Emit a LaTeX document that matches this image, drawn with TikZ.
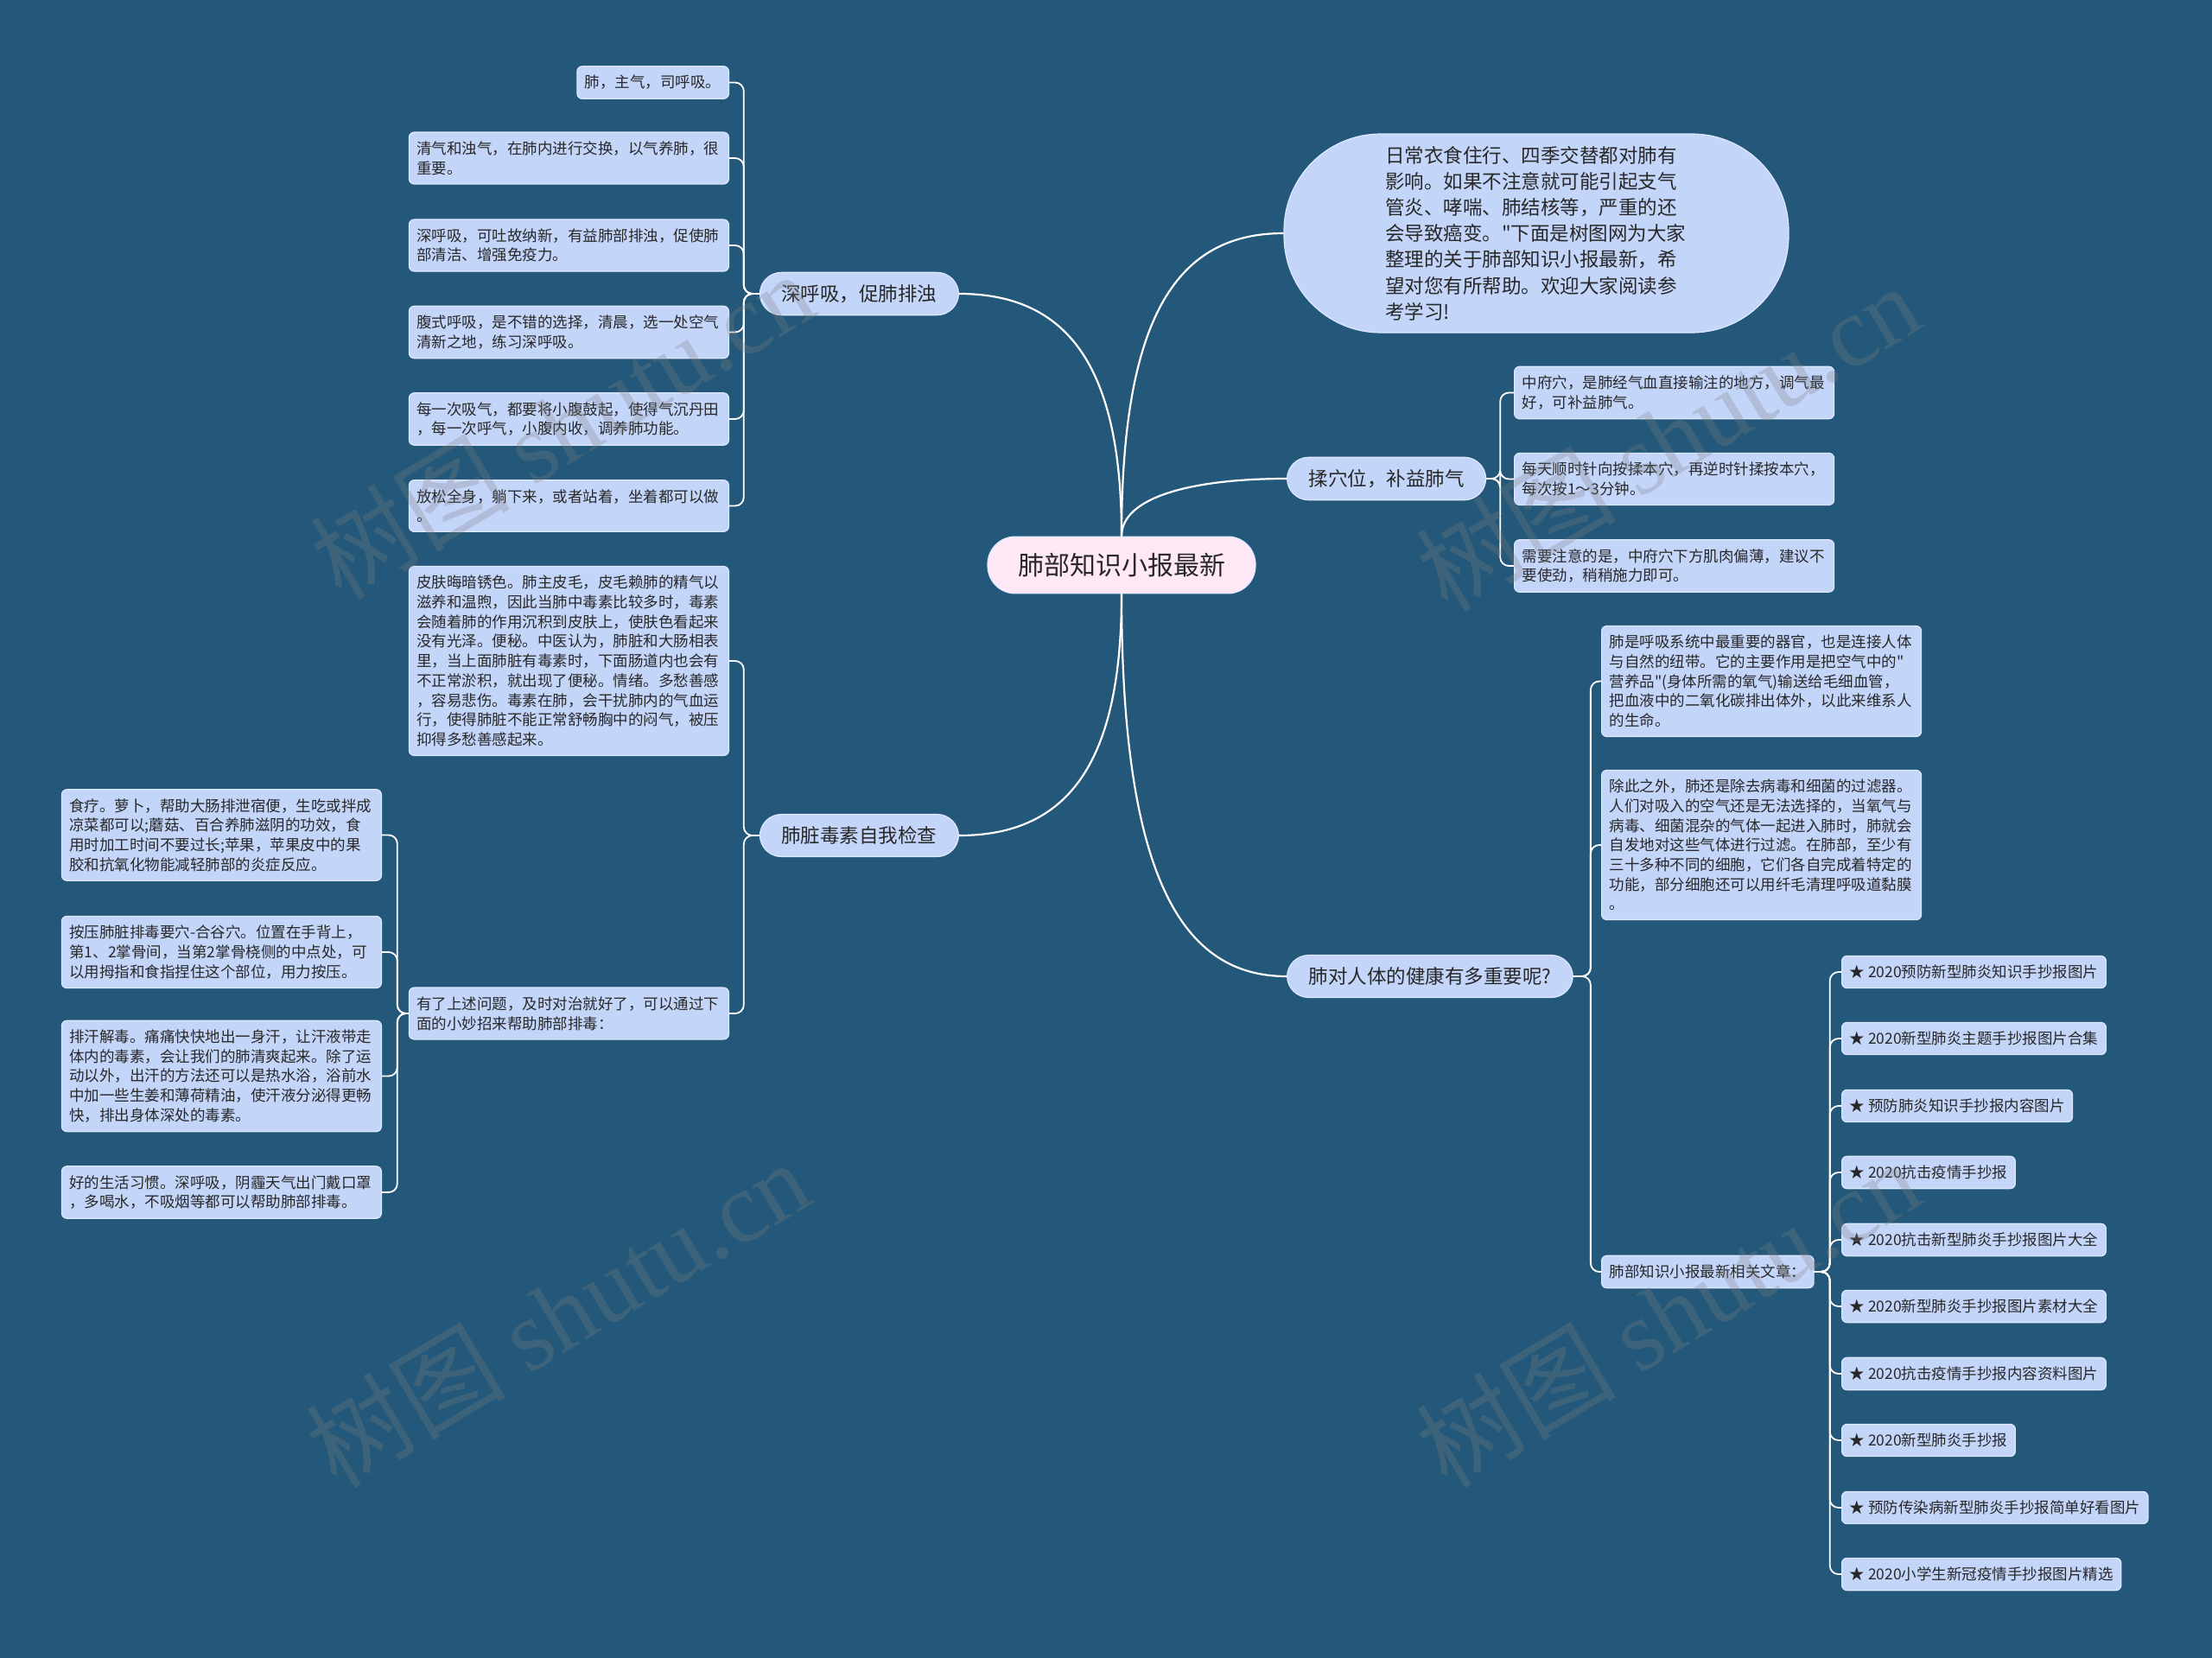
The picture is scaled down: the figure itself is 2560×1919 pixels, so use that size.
\documentclass[tikz,border=0pt]{standalone}
\usepackage{fontspec}
\setmainfont{Noto Sans CJK SC}[Ligatures=TeXOff]
\newfontfamily\wmserif{Liberation Serif}
\usetikzlibrary{calc}
\definecolor{bg}{RGB}{36,88,122}
\definecolor{leaf}{RGB}{196,213,250}
\definecolor{leafrim}{RGB}{222,232,255}
\definecolor{rootfill}{RGB}{255,232,246}
\definecolor{txt}{RGB}{40,40,40}
\tikzset{
  leafbox/.style={fill=leaf, draw=leafrim, line width=1.2pt, rounded corners=6pt, text=txt,
    inner xsep=9pt, inner ysep=10.5pt, align=left, font=\fontsize{17.5}{22.7}\selectfont},
  wideleaf/.style={leafbox, text width=352pt},
  branchbox/.style={fill=leaf, draw=leafrim, line width=1.2pt, rounded corners=25pt, text=txt,
    inner xsep=25pt, inner ysep=14pt, font=\fontsize{22.5}{27}\selectfont},
  rootbox/.style={fill=rootfill, draw=leafrim, line width=1.2pt, rounded corners=32pt, text=txt,
    inner xsep=35pt, inner ysep=19pt, font=\fontsize{30}{36}\selectfont},
  bubblebox/.style={fill=leaf, draw=leafrim, line width=1.2pt, rounded corners=112pt, text=txt,
    minimum width=584pt, minimum height=230pt, text width=350pt, align=left,
    font=\fontsize{22.5}{30.2}\selectfont},
  conn/.style={draw=white, line width=1.8pt, rounded corners=10pt},
  mainconn/.style={draw=white, line width=2.2pt},
  wmark/.style={text=gray, opacity=0.28, rotate=31, font=\fontsize{116}{120}\selectfont}
}
\begin{document}
\begin{tikzpicture}[x=1pt,y=-1pt]
\fill[bg] (0,0) rectangle (2560,1919);
\useasboundingbox (0,0) rectangle (2560,1919);

% root
\node[rootbox] (C) at (1298,654) {肺部知识小报最新};

% branches
\node[branchbox, anchor=east] (b1) at (1110,340) {深呼吸，促肺排浊};
\node[branchbox, anchor=east] (b2) at (1110,967) {肺脏毒素自我检查};
\node[branchbox, anchor=west] (b3) at (1489,554) {揉穴位，补益肺气};
\node[branchbox, anchor=west] (b4) at (1489,1130) {肺对人体的健康有多重要呢?};
\node[bubblebox] (bub) at (1778,270) {日常衣食住行、四季交替都对肺有\\影响。如果不注意就可能引起支气\\管炎、哮喘、肺结核等，严重的还\\会导致癌变。"下面是树图网为大家\\整理的关于肺部知识小报最新，希\\望对您有所帮助。欢迎大家阅读参\\考学习!};

% 深呼吸 leaves
\node[leafbox, anchor=east] (a1) at (844,95.5) {肺，主气，司呼吸。};
\node[wideleaf, anchor=east] (a2) at (844,183) {清气和浊气，在肺内进行交换，以气养肺，很\\重要。};
\node[wideleaf, anchor=east] (a3) at (844,284) {深呼吸，可吐故纳新，有益肺部排浊，促使肺\\部清洁、增强免疫力。};
\node[wideleaf, anchor=east] (a4) at (844,384.5) {腹式呼吸，是不错的选择，清晨，选一处空气\\清新之地，练习深呼吸。};
\node[wideleaf, anchor=east] (a5) at (844,485) {每一次吸气，都要将小腹鼓起，使得气沉丹田\\，每一次呼气，小腹内收，调养肺功能。};
\node[wideleaf, anchor=east] (a6) at (844,585.5) {放松全身，躺下来，或者站着，坐着都可以做\\。};

% 肺脏毒素 leaves
\node[wideleaf, anchor=east] (p1) at (844,765) {皮肤晦暗锈色。肺主皮毛，皮毛赖肺的精气以\\滋养和温煦，因此当肺中毒素比较多时，毒素\\会随着肺的作用沉积到皮肤上，使肤色看起来\\没有光泽。便秘。中医认为，肺脏和大肠相表\\里，当上面肺脏有毒素时，下面肠道内也会有\\不正常淤积，就出现了便秘。情绪。多愁善感\\，容易悲伤。毒素在肺，会干扰肺内的气血运\\行，使得肺脏不能正常舒畅胸中的闷气，被压\\抑得多愁善感起来。};
\node[wideleaf, anchor=east] (p2) at (844,1173) {有了上述问题，及时对治就好了，可以通过下\\面的小妙招来帮助肺部排毒：};

\node[wideleaf, anchor=east] (q1) at (442,966.5) {食疗。萝卜，帮助大肠排泄宿便，生吃或拌成\\凉菜都可以;蘑菇、百合养肺滋阴的功效，食\\用时加工时间不要过长;苹果，苹果皮中的果\\胶和抗氧化物能减轻肺部的炎症反应。};
\node[wideleaf, anchor=east] (q2) at (442,1102) {按压肺脏排毒要穴-合谷穴。位置在手背上，\\第1、2掌骨间，当第2掌骨桡侧的中点处，可\\以用拇指和食指捏住这个部位，用力按压。};
\node[wideleaf, anchor=east] (q3) at (442,1245.5) {排汗解毒。痛痛快快地出一身汗，让汗液带走\\体内的毒素，会让我们的肺清爽起来。除了运\\动以外，出汗的方法还可以是热水浴，浴前水\\中加一些生姜和薄荷精油，使汗液分泌得更畅\\快，排出身体深处的毒素。};
\node[wideleaf, anchor=east] (q4) at (442,1380) {好的生活习惯。深呼吸，阴霾天气出门戴口罩\\，多喝水，不吸烟等都可以帮助肺部排毒。};

% 揉穴位 leaves
\node[wideleaf, anchor=west] (r1) at (1752,454.5) {中府穴，是肺经气血直接输注的地方，调气最\\好，可补益肺气。};
\node[wideleaf, anchor=west] (r2) at (1752,554.5) {每天顺时针向按揉本穴，再逆时针揉按本穴，\\每次按1～3分钟。};
\node[wideleaf, anchor=west] (r3) at (1752,655) {需要注意的是，中府穴下方肌肉偏薄，建议不\\要使劲，稍稍施力即可。};

% 肺对人体 leaves
\node[wideleaf, anchor=west] (s1) at (1853,788.5) {肺是呼吸系统中最重要的器官，也是连接人体\\与自然的纽带。它的主要作用是把空气中的"\\营养品"(身体所需的氧气)输送给毛细血管，\\把血液中的二氧化碳排出体外，以此来维系人\\的生命。};
\node[wideleaf, anchor=west] (s2) at (1853,978) {除此之外，肺还是除去病毒和细菌的过滤器。\\人们对吸入的空气还是无法选择的，当氧气与\\病毒、细菌混杂的气体一起进入肺时，肺就会\\自发地对这些气体进行过滤。在肺部，至少有\\三十多种不同的细胞，它们各自完成着特定的\\功能，部分细胞还可以用纤毛清理呼吸道黏膜\\。};
\node[leafbox, anchor=west] (s3) at (1853,1472) {肺部知识小报最新相关文章：};

% article list
\node[leafbox, anchor=west] (t1) at (2131,1125) {★ 2020预防新型肺炎知识手抄报图片};
\node[leafbox, anchor=west] (t2) at (2131,1202) {★ 2020新型肺炎主题手抄报图片合集};
\node[leafbox, anchor=west] (t3) at (2131,1280) {★ 预防肺炎知识手抄报内容图片};
\node[leafbox, anchor=west] (t4) at (2131,1357) {★ 2020抗击疫情手抄报};
\node[leafbox, anchor=west] (t5) at (2131,1435) {★ 2020抗击新型肺炎手抄报图片大全};
\node[leafbox, anchor=west] (t6) at (2131,1512) {★ 2020新型肺炎手抄报图片素材大全};
\node[leafbox, anchor=west] (t7) at (2131,1590) {★ 2020抗击疫情手抄报内容资料图片};
\node[leafbox, anchor=west] (t8) at (2131,1667) {★ 2020新型肺炎手抄报};
\node[leafbox, anchor=west] (t9) at (2131,1745) {★ 预防传染病新型肺炎手抄报简单好看图片};
\node[leafbox, anchor=west] (t10) at (2131,1822) {★ 2020小学生新冠疫情手抄报图片精选};

% main connectors
\draw[mainconn] (C.north) .. controls +(0,-190) and +(130,0) .. (b1.east);
\draw[mainconn] (C.north) .. controls +(0,-260) and +(-120,0) .. (bub.west);
\draw[mainconn] (C.north) .. controls +(0,-45) and +(-110,0) .. (b3.west);
\draw[mainconn] (C.south) .. controls +(0,190) and +(130,0) .. (b2.east);
\draw[mainconn] (C.south) .. controls +(0,330) and +(-120,0) .. (b4.west);

% bracket connectors
\foreach \n in {a1,a2,a3,a4,a5,a6}
  \draw[conn] (b1.west) -- ++(-18,0) |- (\n.east);
\foreach \n in {p1,p2}
  \draw[conn] (b2.west) -- ++(-18,0) |- (\n.east);
\foreach \n in {q1,q2,q3,q4}
  \draw[conn] (p2.west) -- ++(-13,0) |- (\n.east);
\foreach \n in {r1,r2,r3}
  \draw[conn] (b3.east) -- ++(16,0) |- (\n.west);
\foreach \n in {s1,s2,s3}
  \draw[conn] (b4.east) -- ++(20,0) |- (\n.west);
\foreach \n in {t1,t2,t3,t4,t5,t6,t7,t8,t9,t10}
  \draw[conn] (s3.east) -- ++(18,0) |- (\n.west);

% watermarks
\node[wmark] (w1) at (650,492) {树图 {\wmserif shutu.cn}};
\node[wmark] (w2) at (1930,506) {树图 {\wmserif shutu.cn}};
\node[wmark] (w3) at (645,1520) {树图 {\wmserif shutu.cn}};
\node[wmark] (w4) at (1930,1520) {树图 {\wmserif shutu.cn}};
\end{tikzpicture}
\end{document}
